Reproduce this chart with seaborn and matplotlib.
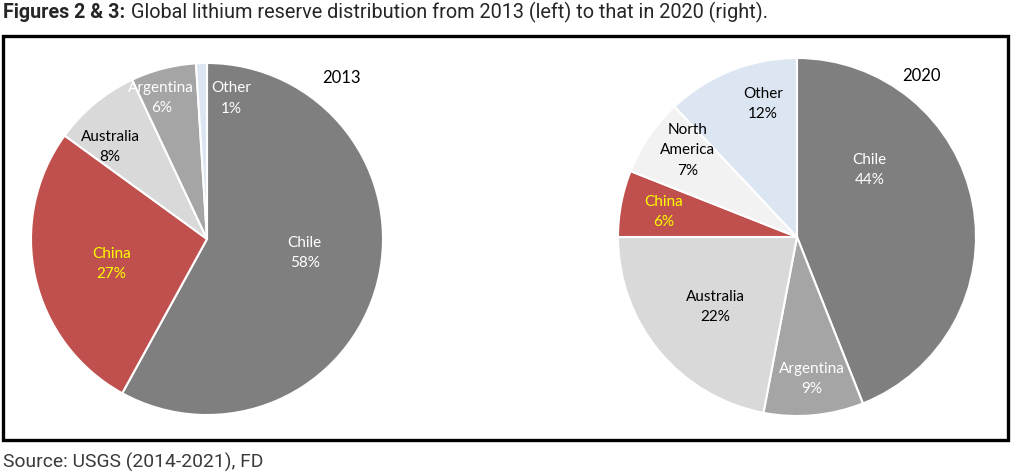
import matplotlib
matplotlib.use("Agg")
import matplotlib.pyplot as plt
import seaborn as sns
import numpy as np
from matplotlib.patches import Rectangle

# Reserve shares (percent)
countries_2013 = ['Chile', 'China', 'Australia', 'Argentina', 'Other']
shares_2013 = [58, 27, 8, 6, 1]

countries_2020 = ['Chile', 'Argentina', 'Australia', 'China', 'North America', 'Other']
shares_2020 = [44, 9, 22, 6, 7, 12]

slice_colors = {'Chile': '#7f7f7f', 'China': '#c0504d', 'Australia': '#d9d9d9',
                'Argentina': '#a5a5a5', 'Other': '#dce6f2', 'North America': '#f2f2f2'}
label_colors_2013 = ['white', '#ffff00', 'black', 'white', 'white']
label_colors_2020 = ['white', 'white', 'black', '#ffff00', 'black', 'black']

# label placement: (fraction of radius, angle shift from slice middle in degrees)
label_pos_2013 = [(0.56, 6.3), (0.56, 1.9), (0.76, 6.9), (0.84, 3.6), (0.81, -11.5)]
label_pos_2020 = [(0.55, 32), (0.80, 0.6), (0.60, 0.9), (0.76, 0.4), (0.78, -4.1), (0.765, -7.2)]

sns.set_theme(style="white")
plt.rcParams['font.family'] = ['Lato', 'DejaVu Sans']

W, H = 1024, 474
fig = plt.figure(figsize=(W / 100, H / 100), dpi=100)


def px_axes(left, top, right, bottom):
    return fig.add_axes([left / W, 1 - bottom / H, (right - left) / W, (bottom - top) / H])


def draw_pie(ax, names, shares, lab_colors, lab_pos):
    wedges, _ = ax.pie(shares, colors=[slice_colors[n] for n in names],
                       startangle=90, counterclock=False,
                       wedgeprops=dict(edgecolor='white', linewidth=1.5))
    ax.set_xlim(-1, 1)
    ax.set_ylim(-1, 1)
    ax.set_aspect('equal')
    for w, name, share, col, (r, shift) in zip(wedges, names, shares, lab_colors, lab_pos):
        ang = np.deg2rad((w.theta1 + w.theta2) / 2 + shift)
        txt = name.replace(' ', '\n') + '\n' + f'{share}%'
        ax.text(r * np.cos(ang), r * np.sin(ang), txt, ha='center', va='center',
                color=col, fontsize=11, linespacing=1.55)


ax1 = px_axes(31, 63, 383, 415)
draw_pie(ax1, countries_2013, shares_2013, label_colors_2013, label_pos_2013)

ax2 = px_axes(618, 58, 976, 416)
draw_pie(ax2, countries_2020, shares_2020, label_colors_2020, label_pos_2020)

fig.text(341 / W, 1 - 78 / H, '2013', ha='center', va='center', fontsize=12, color='black')
fig.text(921 / W, 1 - 76 / H, '2020', ha='center', va='center', fontsize=12, color='black')

# black frame around both charts
fig.patches.append(Rectangle((3 / W, 1 - 440 / H), 1005 / W, 404 / H, transform=fig.transFigure,
                             fill=False, edgecolor='black', linewidth=2.4))

# title: bold prefix followed by regular text
t1 = fig.text(3 / W, 1 - 12.5 / H, 'Figures 2 & 3:', fontweight='bold', fontsize=14.2,
              va='center', ha='left', family=['Roboto', 'DejaVu Sans'])
fig.canvas.draw()
bb = t1.get_window_extent(renderer=fig.canvas.get_renderer())
fig.text((bb.x1 + 6) / W, 1 - 12.5 / H,
         'Global lithium reserve distribution from 2013 (left) to that in 2020 (right).',
         fontsize=14.3, va='center', ha='left', family=['Roboto', 'DejaVu Sans'])

fig.text(3 / W, 1 - 462 / H, 'Source: USGS (2014-2021), FD', fontsize=13.9, va='center',
         ha='left', color='#3a3a3a', family=['Roboto', 'DejaVu Sans'])

fig.savefig('out.png', dpi=100)
